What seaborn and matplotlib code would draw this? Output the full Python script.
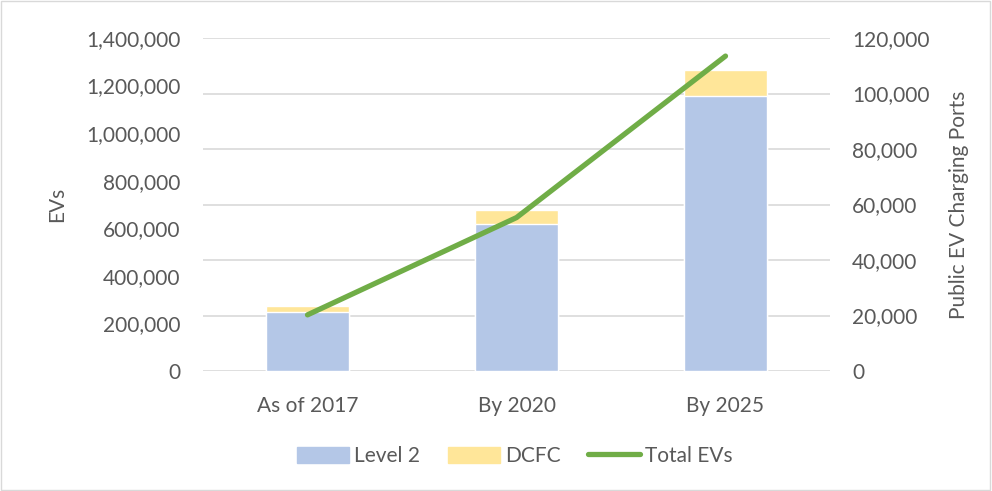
import pandas as pd
import matplotlib.pyplot as plt
import seaborn as sns
from matplotlib.patches import Patch, Rectangle
from matplotlib.lines import Line2D
from matplotlib.ticker import FuncFormatter

# データ
periods = ['As of 2017', 'By 2020', 'By 2025']
level2 = [21300, 52800, 99200]
dcfc = [2100, 5200, 9300]
total_evs = [236000, 645000, 1324000]

df = pd.DataFrame({'period': periods, 'level2': level2, 'dcfc': dcfc,
                   'total_evs': total_evs})
df['ports'] = df['level2'] + df['dcfc']

sns.set_style('white')
plt.rcParams['font.family'] = ['Lato', 'DejaVu Sans']
txt = '#595959'
fs = 15

fig = plt.figure(figsize=(9.92, 4.91), dpi=100)
ax1 = fig.add_axes([203 / 992, 1 - 371 / 491, 627 / 992, 333 / 491])

# 充電ポート (右軸) の積み上げ棒
sns.barplot(data=df, x='period', y='ports', ax=ax1, color='#FFE699',
            saturation=1, width=0.4)
sns.barplot(data=df, x='period', y='level2', ax=ax1, color='#B4C7E7',
            saturation=1, width=0.4)
ax1.set_ylim(0, 120000)
ax1.set_xlim(-0.5, 2.5)
ax1.set_xlabel('')
ax1.grid(axis='y', color='#D9D9D9', linewidth=1.2)
ax1.set_axisbelow(True)

# EV台数 (左軸) の折れ線
ax2 = ax1.twinx()
sns.lineplot(data=df, x='period', y='total_evs', ax=ax2, color='#70AD47',
             linewidth=3.8, solid_capstyle='round', sort=False)
ax2.set_ylim(0, 1400000)
ax2.set_xlabel('')

# 軸の左右を入れ替え
ax1.yaxis.tick_right()
ax1.yaxis.set_label_position('right')
ax2.yaxis.tick_left()
ax2.yaxis.set_label_position('left')

ax1.set_yticks(range(0, 120001, 20000))
ax1.yaxis.set_major_formatter(FuncFormatter(lambda v, p: f'{int(v):,}'))
ax1.set_ylabel('Public EV Charging Ports', fontsize=fs, color=txt, labelpad=14)
ax2.set_yticks(range(0, 1400001, 200000))
ax2.yaxis.set_major_formatter(FuncFormatter(lambda v, p: f'{int(v):,}'))
ax2.set_ylabel('EVs', fontsize=fs, color=txt, labelpad=14)

for ax in (ax1, ax2):
    for s in ax.spines.values():
        s.set_visible(False)
    ax.tick_params(axis='both', length=0, labelsize=fs, colors=txt, pad=16)
ax1.tick_params(axis='x', pad=18)

handles = [Patch(color='#B4C7E7', label='Level 2'),
           Patch(color='#FFE699', label='DCFC'),
           Line2D([0], [0], color='#70AD47', lw=3.8, solid_capstyle='round',
                  label='Total EVs')]
fig.legend(handles=handles, loc='center', bbox_to_anchor=(0.519, 1 - 456 / 491),
           ncol=3, frameon=False, fontsize=fs, labelcolor=txt,
           handlelength=2.5, handleheight=0.8, columnspacing=1.3,
           handletextpad=0.25)

fig.patches.append(Rectangle((0.001, 0.002), 0.997, 0.996, transform=fig.transFigure,
                             fill=False, edgecolor='#D9D9D9', linewidth=1))

fig.savefig('out.png', dpi=100)
